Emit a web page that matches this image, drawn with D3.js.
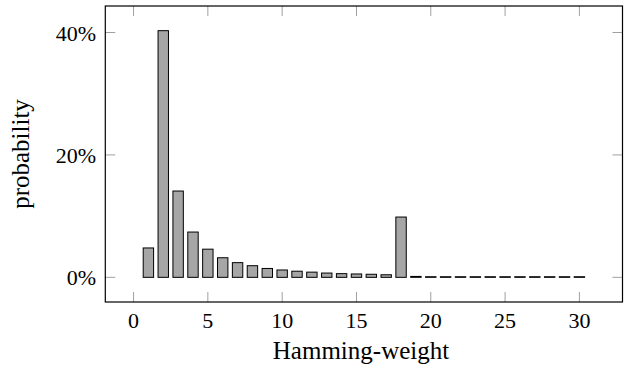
<!DOCTYPE html>
<html>
<head>
<meta charset="utf-8">
<script src="https://cdn.jsdelivr.net/npm/d3@7"></script>
<style>
  body { margin: 0; background: #fff; }
  svg text { font-family: "Liberation Serif", "DejaVu Serif", serif; fill: #000; }
  .tick-line { stroke: #a0a0a0; stroke-width: 1; }
</style>
</head>
<body>
<div id="chart"></div>
<script>
// Hamming-weight of each bar and its probability (in %)
var weights = [1, 2, 3, 4, 5, 6, 7, 8, 9, 10, 11, 12, 13, 14, 15,
               16, 17, 18, 19, 20, 21, 22, 23, 24, 25, 26, 27, 28, 29, 30];
var probs = [4.8, 40.3, 14.1, 7.4, 4.6, 3.2, 2.4, 1.9, 1.45, 1.2, 1.0, 0.85, 0.7, 0.6, 0.55,
             0.5, 0.42, 9.85, 0.15, 0.1, 0.1, 0.1, 0.1, 0.1, 0.1, 0.1, 0.1, 0.1, 0.1, 0.1];
var xTicks = [0, 5, 10, 15, 20, 25, 30];
var yTicks = [0, 20, 40];

var width = 627, height = 366;
var box = {left: 105.3, right: 622.5, top: 6, bottom: 302};
var tickLen = 10;

var svg = d3.select("#chart").append("svg")
    .attr("width", width)
    .attr("height", height);

// pgfplots style: 10% enlargement of the data range
var x = d3.scaleLinear().domain([-1.9, 32.9]).range([box.left, box.right]);
var y = d3.scaleLinear().domain([-4.03, 44.33]).range([box.bottom, box.top]);

//bars
svg.selectAll("rect.bar")
    .data(weights)
    .enter()
    .append("rect")
    .attr("class", "bar")
    .attr("x", d => x(d) - 5.2)
    .attr("width", 10.4)
    .attr("y", (d, i) => y(probs[i]))
    .attr("height", (d, i) => y(0) - y(probs[i]))
    .attr("fill", "#a6a6a6")
    .attr("stroke", "#000")
    .attr("stroke-width", 1);

//ticks, inside on every side
xTicks.forEach(t => {
    svg.append("line").attr("class", "tick-line")
        .attr("x1", x(t)).attr("x2", x(t))
        .attr("y1", box.bottom).attr("y2", box.bottom - tickLen);
    svg.append("line").attr("class", "tick-line")
        .attr("x1", x(t)).attr("x2", x(t))
        .attr("y1", box.top).attr("y2", box.top + tickLen);
    svg.append("text")
        .attr("x", x(t))
        .attr("y", 327.5)
        .attr("text-anchor", "middle")
        .style("font-size", "22px")
        .text(t);
});

yTicks.forEach(t => {
    svg.append("line").attr("class", "tick-line")
        .attr("x1", box.left).attr("x2", box.left + tickLen)
        .attr("y1", y(t)).attr("y2", y(t));
    svg.append("line").attr("class", "tick-line")
        .attr("x1", box.right).attr("x2", box.right - tickLen)
        .attr("y1", y(t)).attr("y2", y(t));
    svg.append("text")
        .attr("x", 96)
        .attr("y", y(t) + 8)
        .attr("text-anchor", "end")
        .style("font-size", "22px")
        .text(t + "%");
});

//frame
svg.append("rect")
    .attr("x", box.left)
    .attr("y", box.top)
    .attr("width", box.right - box.left)
    .attr("height", box.bottom - box.top)
    .attr("fill", "none")
    .attr("stroke", "#000")
    .attr("stroke-width", 1.2);

//axis labels
svg.append("text")
    .attr("x", 361)
    .attr("y", 358.5)
    .attr("text-anchor", "middle")
    .style("font-size", "25px")
    .text("Hamming-weight");

svg.append("text")
    .attr("transform", "translate(29,154) rotate(-90)")
    .attr("text-anchor", "middle")
    .style("font-size", "25px")
    .text("probability");
</script>
</body>
</html>
